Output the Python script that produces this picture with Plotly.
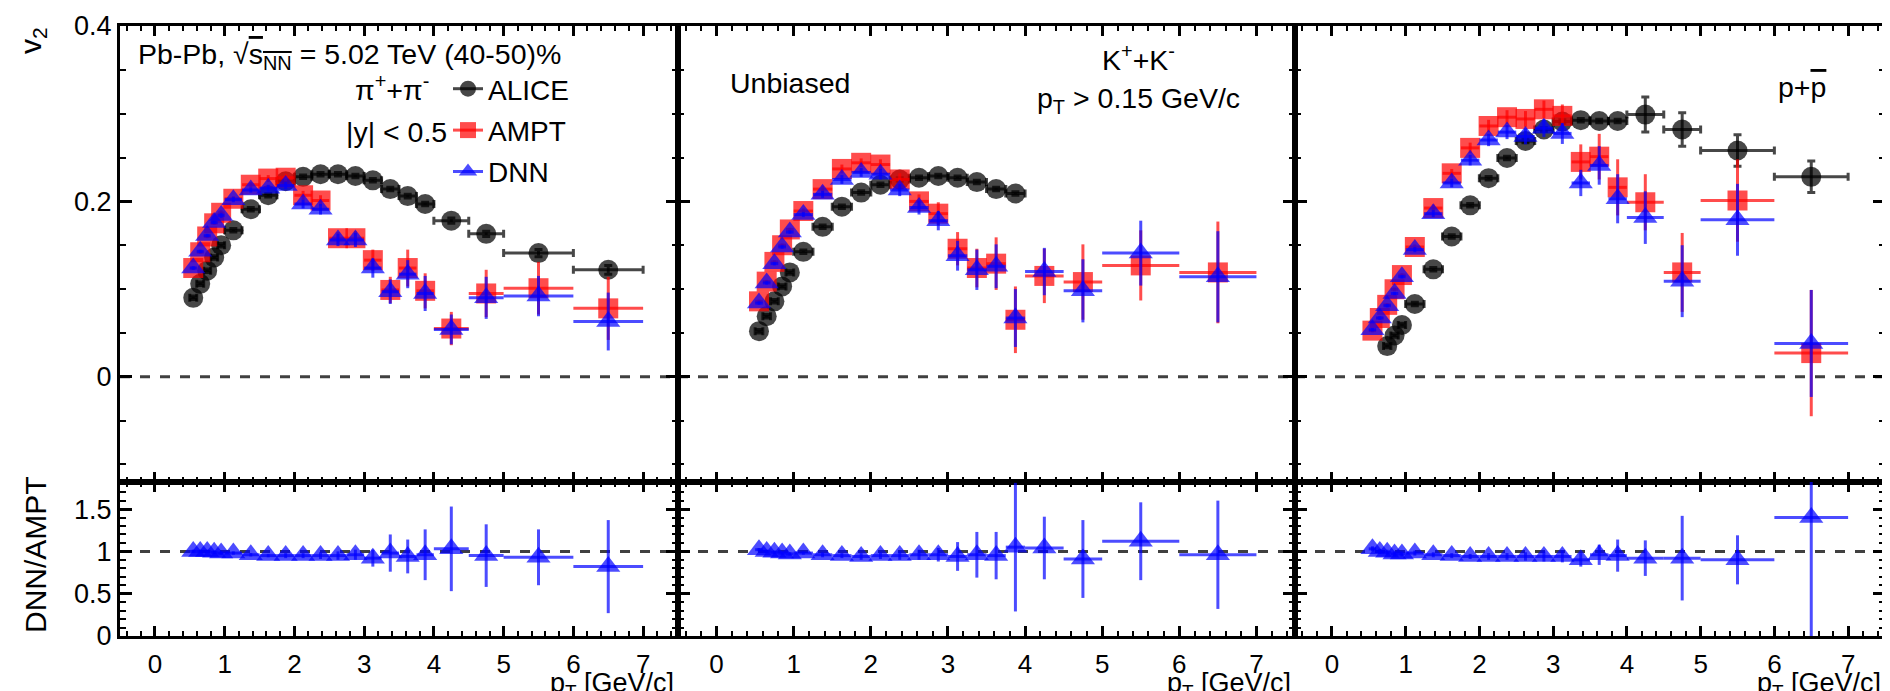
import plotly.graph_objects as go

# ---------------- data ----------------
pt_bins = [0.55, 0.65, 0.75, 0.85, 0.95, 1.125, 1.375, 1.625, 1.875, 2.125, 2.375,
           2.625, 2.875, 3.125, 3.375, 3.625, 3.875, 4.25, 4.75, 5.5, 6.5]
pt_halfwidth = [0.05, 0.05, 0.05, 0.05, 0.05, 0.125, 0.125, 0.125, 0.125, 0.125, 0.125,
                0.125, 0.125, 0.125, 0.125, 0.125, 0.125, 0.25, 0.25, 0.5, 0.5]

# pions
pion_alice_pt = [0.55, 0.65, 0.75, 0.85, 0.95, 1.125, 1.375, 1.625, 1.875, 2.125, 2.375,
                 2.625, 2.875, 3.125, 3.375, 3.625, 3.875, 4.25, 4.75, 5.5, 6.5]
pion_alice_xerr = [0.05, 0.05, 0.05, 0.05, 0.05, 0.125, 0.125, 0.125, 0.125, 0.125, 0.125,
                   0.125, 0.125, 0.125, 0.125, 0.125, 0.125, 0.25, 0.25, 0.5, 0.5]
pion_alice_v2 = [0.090, 0.106, 0.121, 0.136, 0.150, 0.167, 0.191, 0.207, 0.223, 0.228, 0.231,
                 0.231, 0.229, 0.224, 0.214, 0.206, 0.197, 0.178, 0.163, 0.141, 0.122]
pion_alice_err = [0.002, 0.002, 0.002, 0.002, 0.002, 0.002, 0.002, 0.002, 0.002, 0.002, 0.002,
                  0.002, 0.002, 0.002, 0.002, 0.002, 0.002, 0.003, 0.003, 0.004, 0.005]
pion_ampt_v2 = [0.124, 0.142, 0.160, 0.175, 0.187, 0.203, 0.219, 0.226, 0.227, 0.207, 0.201,
                0.158, 0.158, 0.133, 0.099, 0.124, 0.098, 0.055, 0.095, 0.101, 0.078]
pion_ampt_err = [0.002, 0.002, 0.002, 0.002, 0.003, 0.003, 0.003, 0.004, 0.004, 0.005, 0.006,
                 0.007, 0.008, 0.012, 0.015, 0.021, 0.020, 0.019, 0.027, 0.030, 0.036]
pion_dnn_v2 = [0.124, 0.143, 0.161, 0.176, 0.184, 0.202, 0.213, 0.215, 0.218, 0.197, 0.191,
               0.156, 0.156, 0.124, 0.097, 0.117, 0.095, 0.054, 0.090, 0.092, 0.063]
pion_dnn_err = [0.002, 0.002, 0.002, 0.002, 0.003, 0.003, 0.003, 0.004, 0.004, 0.005, 0.006,
                0.007, 0.008, 0.011, 0.014, 0.016, 0.020, 0.017, 0.024, 0.023, 0.033]
pion_ratio = [1.00, 1.00, 1.00, 0.99, 0.98, 0.98, 0.96, 0.95, 0.95, 0.95, 0.95,
              0.95, 0.96, 0.92, 0.98, 0.94, 0.96, 1.03, 0.95, 0.93, 0.82]
pion_ratio_err = [0.02, 0.02, 0.02, 0.02, 0.02, 0.02, 0.02, 0.02, 0.03, 0.03, 0.04,
                  0.05, 0.06, 0.10, 0.22, 0.20, 0.30, 0.50, 0.37, 0.33, 0.55]

# kaons
kaon_alice_pt = [0.55, 0.65, 0.75, 0.85, 0.95, 1.125, 1.375, 1.625, 1.875, 2.125, 2.375,
                 2.625, 2.875, 3.125, 3.375, 3.625, 3.875]
kaon_alice_xerr = [0.05, 0.05, 0.05, 0.05, 0.05, 0.125, 0.125, 0.125, 0.125, 0.125, 0.125,
                   0.125, 0.125, 0.125, 0.125, 0.125, 0.125]
kaon_alice_v2 = [0.052, 0.069, 0.086, 0.103, 0.119, 0.1425, 0.171, 0.194, 0.210, 0.219, 0.225,
                 0.227, 0.229, 0.227, 0.222, 0.214, 0.209]
kaon_alice_err = [0.002, 0.002, 0.002, 0.002, 0.002, 0.002, 0.002, 0.002, 0.002, 0.002, 0.002,
                  0.002, 0.002, 0.002, 0.002, 0.002, 0.002]
kaon_ampt_v2 = [0.086, 0.1085, 0.131, 0.150, 0.168, 0.189, 0.214, 0.237, 0.244, 0.242, 0.225,
                0.200, 0.186, 0.146, 0.124, 0.129, 0.065, 0.115, 0.108, 0.127, 0.119]
kaon_ampt_err = [0.002, 0.002, 0.002, 0.002, 0.002, 0.003, 0.004, 0.005, 0.005, 0.006, 0.007,
                 0.008, 0.013, 0.019, 0.022, 0.030, 0.038, 0.031, 0.043, 0.040, 0.058]
kaon_dnn_v2 = [0.084, 0.107, 0.129, 0.148, 0.165, 0.185, 0.208, 0.225, 0.233, 0.231, 0.213,
               0.193, 0.178, 0.138, 0.122, 0.126, 0.067, 0.120, 0.098, 0.141, 0.114]
kaon_dnn_err = [0.002, 0.002, 0.002, 0.002, 0.002, 0.003, 0.004, 0.005, 0.005, 0.006, 0.007,
                0.008, 0.011, 0.017, 0.023, 0.025, 0.033, 0.027, 0.036, 0.037, 0.052]
kaon_ratio = [1.02, 1.00, 0.99, 0.98, 0.97, 0.98, 0.96, 0.95, 0.94, 0.95, 0.95,
              0.96, 0.96, 0.94, 0.96, 0.95, 1.05, 1.04, 0.91, 1.12, 0.96]
kaon_ratio_err = [0.02, 0.02, 0.02, 0.02, 0.02, 0.02, 0.03, 0.03, 0.04, 0.04, 0.05,
                  0.06, 0.08, 0.17, 0.27, 0.28, 0.76, 0.37, 0.46, 0.46, 0.64]

# protons
proton_alice_pt = [0.75, 0.85, 0.95, 1.125, 1.375, 1.625, 1.875, 2.125, 2.375,
                   2.625, 2.875, 3.125, 3.375, 3.625, 3.875, 4.25, 4.75, 5.5, 6.5]
proton_alice_xerr = [0.05, 0.05, 0.05, 0.125, 0.125, 0.125, 0.125, 0.125, 0.125,
                     0.125, 0.125, 0.125, 0.125, 0.125, 0.125, 0.25, 0.25, 0.5, 0.5]
proton_alice_v2 = [0.035, 0.047, 0.059, 0.083, 0.1225, 0.160, 0.1955, 0.2265, 0.2495,
                   0.269, 0.282, 0.291, 0.2926, 0.2917, 0.2917, 0.299, 0.282, 0.258, 0.228]
proton_alice_err = [0.002, 0.002, 0.002, 0.002, 0.002, 0.002, 0.002, 0.002, 0.002,
                    0.002, 0.002, 0.002, 0.002, 0.002, 0.002, 0.020, 0.019, 0.018, 0.018]
proton_ampt_v2 = [0.0526, 0.067, 0.082, 0.0998, 0.116, 0.148, 0.1924, 0.232, 0.261, 0.286, 0.296,
                  0.294, 0.305, 0.2975, 0.245, 0.251, 0.216, 0.199, 0.119, 0.201, 0.027]
proton_ampt_err = [0.002, 0.002, 0.002, 0.002, 0.002, 0.003, 0.004, 0.005, 0.006, 0.007, 0.008,
                   0.009, 0.010, 0.013, 0.020, 0.026, 0.032, 0.032, 0.045, 0.047, 0.072]
proton_dnn_v2 = [0.0537, 0.067, 0.081, 0.095, 0.114, 0.145, 0.186, 0.221, 0.247, 0.270, 0.279,
                 0.274, 0.2835, 0.2775, 0.221, 0.241, 0.203, 0.1815, 0.109, 0.179, 0.038]
proton_dnn_err = [0.002, 0.002, 0.002, 0.002, 0.002, 0.003, 0.004, 0.005, 0.006, 0.007, 0.008,
                  0.009, 0.010, 0.012, 0.015, 0.022, 0.028, 0.030, 0.041, 0.041, 0.061]
proton_ratio = [1.03, 1.00, 0.99, 0.97, 0.97, 0.98, 0.96, 0.95, 0.94, 0.94, 0.94,
                0.94, 0.94, 0.94, 0.90, 0.96, 0.95, 0.92, 0.92, 0.90, 1.40]
proton_ratio_err = [0.03, 0.03, 0.03, 0.03, 0.03, 0.03, 0.03, 0.03, 0.03, 0.04, 0.04,
                    0.05, 0.06, 0.07, 0.08, 0.12, 0.19, 0.21, 0.50, 0.29, 1.50]

x_tick_values = [0, 1, 2, 3, 4, 5, 6, 7]

# ---------------- styling ----------------
W, H = 1890, 691
FONT = "Liberation Sans, Arial, Helvetica, sans-serif"
C_ALICE = "rgba(0,0,0,0.72)"
C_AMPT = "rgba(255,0,0,0.70)"
C_DNN = "rgba(0,0,255,0.70)"


def px(x):
    return x / W


def py(y):
    return 1 - y / H


def aid(n):
    return "" if n == 1 else str(n)


panels = [
    dict(ax=pion_alice_pt, axe=pion_alice_xerr, ay=pion_alice_v2, aye=pion_alice_err,
         my=pion_ampt_v2, mye=pion_ampt_err, dy=pion_dnn_v2, dye=pion_dnn_err,
         r=pion_ratio, re=pion_ratio_err),
    dict(ax=kaon_alice_pt, axe=kaon_alice_xerr, ay=kaon_alice_v2, aye=kaon_alice_err,
         my=kaon_ampt_v2, mye=kaon_ampt_err, dy=kaon_dnn_v2, dye=kaon_dnn_err,
         r=kaon_ratio, re=kaon_ratio_err),
    dict(ax=proton_alice_pt, axe=proton_alice_xerr, ay=proton_alice_v2, aye=proton_alice_err,
         my=proton_ampt_v2, mye=proton_ampt_err, dy=proton_dnn_v2, dye=proton_dnn_err,
         r=proton_ratio, re=proton_ratio_err),
]

fig = go.Figure()

for i, p in enumerate(panels):
    xu, yu = "x" + aid(i + 1), "y" + aid(i + 1)
    xl, yl = "x" + aid(i + 4), "y" + aid(i + 4)
    fig.add_trace(go.Scatter(
        x=p["ax"], y=p["ay"], xaxis=xu, yaxis=yu, mode="markers", showlegend=False,
        marker=dict(symbol="circle", size=20, color=C_ALICE, line=dict(width=0)),
        error_y=dict(type="data", array=p["aye"], color=C_ALICE, thickness=3, width=4),
        error_x=dict(type="data", array=p["axe"], color=C_ALICE, thickness=3, width=4)))
    fig.add_trace(go.Scatter(
        x=pt_bins, y=p["my"], xaxis=xu, yaxis=yu, mode="markers", showlegend=False,
        marker=dict(symbol="square", size=20, color=C_AMPT, line=dict(width=0)),
        error_y=dict(type="data", array=p["mye"], color=C_AMPT, thickness=3, width=0),
        error_x=dict(type="data", array=pt_halfwidth, color=C_AMPT, thickness=3, width=0)))
    fig.add_trace(go.Scatter(
        x=pt_bins, y=p["dy"], xaxis=xu, yaxis=yu, mode="markers", showlegend=False,
        marker=dict(symbol="triangle-up", size=21, color=C_DNN, line=dict(width=0)),
        error_y=dict(type="data", array=p["dye"], color=C_DNN, thickness=3, width=0),
        error_x=dict(type="data", array=pt_halfwidth, color=C_DNN, thickness=3, width=0)))
    fig.add_trace(go.Scatter(
        x=pt_bins, y=p["r"], xaxis=xl, yaxis=yl, mode="markers", showlegend=False,
        marker=dict(symbol="triangle-up", size=21, color=C_DNN, line=dict(width=0)),
        error_y=dict(type="data", array=p["re"], color=C_DNN, thickness=3, width=0),
        error_x=dict(type="data", array=pt_halfwidth, color=C_DNN, thickness=3, width=0)))

# legend-only entries
for name, sym, col in [("ALICE", "circle", C_ALICE), ("AMPT", "square", C_AMPT),
                       ("DNN", "triangle-up", C_DNN)]:
    fig.add_trace(go.Scatter(
        x=[None], y=[None], xaxis="x", yaxis="y", mode="lines+markers", name=name,
        legendgroup=name, line=dict(color=col, width=3),
        marker=dict(symbol=sym, size=16, color=col)))

xdoms = [(px(112), px(670)), (px(670), px(1287)), (px(1287), px(1877))]
ydom_up = (py(474), py(18))
ydom_lo = (py(628), py(474))

common = dict(showline=True, linecolor="black", linewidth=3, mirror="ticks",
              ticks="inside", tickcolor="black", tickwidth=3, showgrid=False,
              zeroline=False, fixedrange=True, automargin=False)

layout = dict(
    template="none",
    autosize=False,
    width=W, height=H, margin=dict(l=0, r=0, t=0, b=0, pad=0),
    paper_bgcolor="white", plot_bgcolor="white",
    font=dict(family=FONT, color="black"),
    showlegend=True,
    legend=dict(x=px(440), y=py(56), xanchor="left", yanchor="top",
                font=dict(size=28, family=FONT, color="black"),
                bgcolor="rgba(0,0,0,0)", borderwidth=0, tracegroupgap=2,
                itemwidth=30),
)

for i in range(3):
    for row in (0, 1):
        n = i + 1 + 3 * row
        xa = dict(common, domain=list(xdoms[i]), anchor="y" + aid(n), range=[-0.5, 7.5],
                  tickmode="array", tickvals=x_tick_values, ticklen=10,
                  minor=dict(dtick=0.2, tick0=0, ticklen=5, tickwidth=2, ticks="inside",
                             tickcolor="black", showgrid=False),
                  showticklabels=(row == 1),
                  tickfont=dict(size=26, family=FONT, color="black"),
                  ticklabelstandoff=3)
        if row == 0:
            ya = dict(common, domain=list(ydom_up), anchor="x" + aid(n), range=[-0.12, 0.4],
                      dtick=0.2, tick0=0, ticklen=12,
                      minor=dict(dtick=0.05, tick0=0, ticklen=6, tickwidth=2, ticks="inside",
                                 tickcolor="black", showgrid=False),
                      showticklabels=(i == 0),
                      tickfont=dict(size=27, family=FONT, color="black"))
        else:
            ya = dict(common, domain=list(ydom_lo), anchor="x" + aid(n), range=[0, 1.82],
                      dtick=0.5, tick0=0, ticklen=12,
                      minor=dict(dtick=0.1, tick0=0, ticklen=6, tickwidth=2, ticks="inside",
                                 tickcolor="black", showgrid=False),
                      showticklabels=(i == 0),
                      tickfont=dict(size=27, family=FONT, color="black"))
        layout["xaxis" + aid(n)] = xa
        layout["yaxis" + aid(n)] = ya

shapes = []
for i in range(3):
    shapes.append(dict(type="line", xref="x%s domain" % aid(i + 1), yref="y" + aid(i + 1),
                       x0=0, x1=1, y0=0, y1=0,
                       line=dict(color="#404040", width=3, dash="10px,10px"), layer="below"))
    shapes.append(dict(type="line", xref="x%s domain" % aid(i + 4), yref="y" + aid(i + 4),
                       x0=0, x1=1, y0=1, y1=1,
                       line=dict(color="#404040", width=3, dash="10px,10px"), layer="below"))
layout["shapes"] = shapes

TS = 28.5
ann = []


def add_text(text, x, y, size=TS, xanchor="center", angle=0):
    ann.append(dict(text=text, x=px(x), y=py(y), xref="paper", yref="paper",
                    xanchor=xanchor, yanchor="middle", showarrow=False, textangle=angle,
                    font=dict(size=size, family=FONT, color="black")))


add_text("Pb-Pb, √<span style='text-decoration:overline'>s<sub>NN</sub></span> = 5.02 TeV (40-50)%",
         128, 48, xanchor="left")
add_text("π<sup>+</sup>+π<sup>-</sup>", 384, 80)
add_text("|y| < 0.5", 388, 124)
add_text("Unbiased", 782, 75)
add_text("K<sup>+</sup>+K<sup>-</sup>", 1130, 50)
add_text("p<sub>T</sub> > 0.15 GeV/c", 1130, 92)
add_text("p+<span style='text-decoration:overline'>p</span>", 1794, 79)
add_text("v<sub>2</sub>", 24, 33, size=30, angle=-90)
add_text("DNN/AMPT", 27, 547, size=30, angle=-90)
for xr in (670, 1287, 1877):
    add_text("p<sub>T</sub> [GeV/c]", xr - 2, 677, size=27, xanchor="right")
layout["annotations"] = ann

fig.update_layout(**layout)
fig.write_html("out.html")
